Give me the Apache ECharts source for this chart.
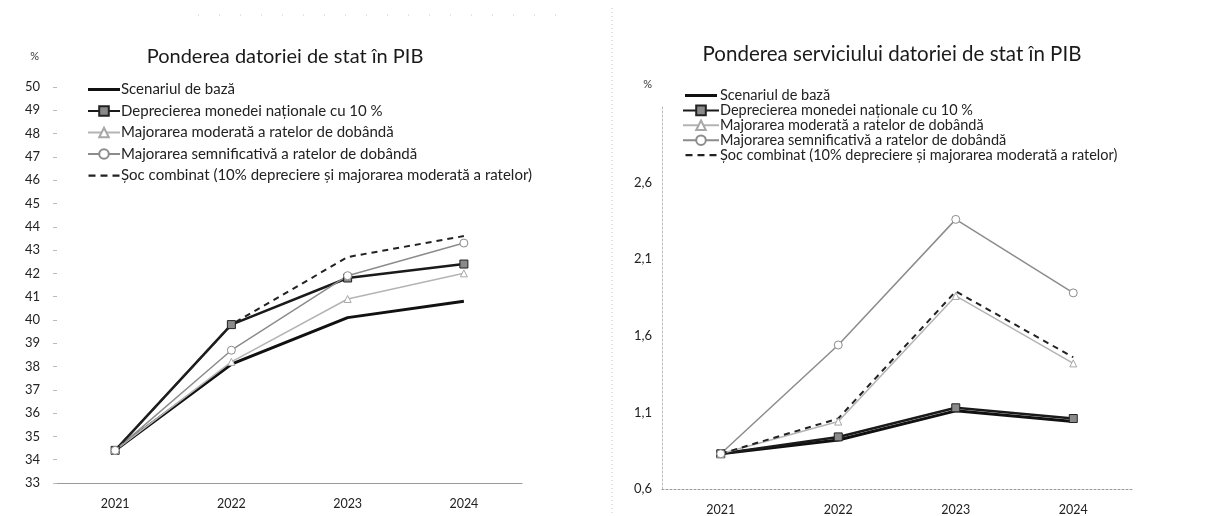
<!DOCTYPE html>
<html>
<head>
<meta charset="utf-8">
<script src="https://cdn.jsdelivr.net/npm/echarts@6/dist/echarts.min.js"></script>
<style>
  html, body { margin: 0; padding: 0; background: #fff; }
  #main { width: 1219px; height: 516px; }
</style>
</head>
<body>
<div id="main"></div>
<script>
const years = ['2021', '2022', '2023', '2024']

const names = [
  'Scenariul de bază',
  'Deprecierea monedei naționale cu 10 %',
  'Majorarea moderată a ratelor de dobândă',
  'Majorarea semnificativă a ratelor de dobândă',
  'Șoc combinat (10% depreciere și majorarea moderată a ratelor)'
]

// Ponderea datoriei de stat in PIB, %
const debtBase = [34.4, 38.1, 40.1, 40.8]
const debtDeprec = [34.4, 39.8, 41.8, 42.4]
const debtModerate = [34.4, 38.2, 40.9, 42.0]
const debtSignificant = [34.4, 38.7, 41.9, 43.3]
const debtCombined = [34.4, 39.8, 42.7, 43.6]

// Ponderea serviciului datoriei de stat in PIB, %
const svcBase = [0.83, 0.92, 1.11, 1.04]
const svcDeprec = [0.83, 0.94, 1.13, 1.06]
const svcModerate = [0.83, 1.04, 1.86, 1.42]
const svcSignificant = [0.83, 1.54, 2.36, 1.88]
const svcCombined = [0.83, 1.06, 1.89, 1.46]

const font = 'Lato, "Open Sans", sans-serif'

// one style per scenario, same on both charts
const styles = [
  { symbol: 'none', lineStyle: { color: '#111', width: 3 } },
  { symbol: 'rect', symbolSize: 8, itemStyle: { color: '#8a8a8a', borderColor: '#222', borderWidth: 1 },
    lineStyle: { color: '#1a1a1a', width: 2.5 } },
  { symbol: 'triangle', symbolSize: 7, itemStyle: { color: '#fff', borderColor: '#a8a8a8', borderWidth: 1 },
    lineStyle: { color: '#b4b4b4', width: 1.5 } },
  { symbol: 'circle', symbolSize: 8, itemStyle: { color: '#fff', borderColor: '#8c8c8c', borderWidth: 1 },
    lineStyle: { color: '#8c8c8c', width: 1.5 } },
  { symbol: 'none', lineStyle: { color: '#222', width: 2, type: [6, 5] } }
]

// legend icons for the two series without markers (plain and dashed line)
const solidIcon = 'path://M0,0M0,12M0,4.5L32,4.5L32,7.5L0,7.5Z'
const dashIcon = 'path://M0,0M0,12M0,5L7,5L7,7.2L0,7.2ZM12,5L19,5L19,7.2L12,7.2ZM24,5L31,5L31,7.2L24,7.2Z'

function legendData() {
  return names.map((n, i) => {
    if (i === 0) return { name: n, icon: solidIcon }
    if (i === 4) return { name: n, icon: dashIcon }
    return { name: n }
  })
}

function makeSeries(dataList, axisIndex) {
  return dataList.map((d, i) => Object.assign({
    name: names[i],
    type: 'line',
    xAxisIndex: axisIndex,
    yAxisIndex: axisIndex,
    data: d,
    showAllSymbol: true,
    animation: false,
    emphasis: { disabled: true }
  }, styles[i], {
    itemStyle: Object.assign({ color: styles[i].lineStyle.color }, styles[i].itemStyle || {})
  }))
}

const chart = echarts.init(document.getElementById('main'))

chart.setOption({
  backgroundColor: '#fff',
  textStyle: { fontFamily: font },
  title: [
    {
      text: 'Ponderea datoriei de stat în PIB',
      left: 280, top: 42, textAlign: 'center',
      textStyle: { fontFamily: font, fontSize: 20, fontWeight: 'normal', color: '#1a1a1a' }
    },
    {
      text: 'Ponderea serviciului datoriei de stat în PIB',
      left: 887, top: 39, textAlign: 'center',
      textStyle: { fontFamily: font, fontSize: 20.5, fontWeight: 'normal', color: '#1a1a1a' }
    }
  ],
  legend: [
    {
      data: legendData(), orient: 'vertical', left: 82, top: 77,
      itemWidth: 32, itemHeight: 12, itemGap: 6.5,
      selectedMode: false,
      textStyle: { fontFamily: font, fontSize: 15, color: '#222', lineHeight: 15, padding: [0, 0, 0, -4] }
    },
    {
      data: legendData(), orient: 'vertical', left: 677, top: 83,
      itemWidth: 36, itemHeight: 12, itemGap: -0.1,
      selectedMode: false,
      textStyle: { fontFamily: font, fontSize: 14.5, color: '#222', lineHeight: 13, padding: [0, 0, 0, -4] }
    }
  ],
  grid: [
    { left: 57, top: 87, width: 465, height: 396 },
    { left: 662, top: 106, width: 470, height: 383 }
  ],
  xAxis: [
    {
      type: 'category', gridIndex: 0, data: years,
      axisLine: { lineStyle: { color: '#9a9a9a', width: 1 } },
      axisTick: { show: false },
      axisLabel: { fontFamily: font, fontSize: 12.5, color: '#222', margin: 14 }
    },
    {
      type: 'category', gridIndex: 1, data: years,
      axisLine: { lineStyle: { color: '#9a9a9a', width: 1, type: [2, 2] } },
      axisTick: { show: false },
      axisLabel: { fontFamily: font, fontSize: 12.5, color: '#222', margin: 14 }
    }
  ],
  yAxis: [
    {
      type: 'value', gridIndex: 0, min: 33, max: 50, interval: 1,
      name: '%', nameLocation: 'end', nameGap: 25,
      nameTextStyle: { fontFamily: font, fontSize: 11, color: '#333', align: 'right', padding: [0, 18, 0, 0] },
      axisLine: { show: false },
      axisTick: { show: true, length: 4, lineStyle: { color: '#bbb' } },
      splitLine: { show: false },
      axisLabel: { fontFamily: font, fontSize: 13, color: '#222', margin: 17 }
    },
    {
      type: 'value', gridIndex: 1, min: 0.6, max: 3.1, interval: 0.5,
      name: '%', nameLocation: 'end', nameGap: 16,
      nameTextStyle: { fontFamily: font, fontSize: 11, color: '#333', align: 'right', padding: [0, 10, 0, 0] },
      axisLine: { show: true, lineStyle: { color: '#bbb', type: [2, 2] } },
      axisTick: { show: false },
      splitLine: { show: false },
      axisLabel: {
        fontFamily: font, fontSize: 13, color: '#222', margin: 10,
        formatter: v => (v > 3 ? '' : v.toFixed(1).replace('.', ','))
      }
    }
  ],
  graphic: [
    {
      type: 'line', silent: true,
      shape: { x1: 612, y1: 8, x2: 612, y2: 516 },
      style: { stroke: '#c8c8c8', lineWidth: 1, lineDash: [1, 3] }
    },
    {
      type: 'line', silent: true,
      shape: { x1: 198, y1: 15, x2: 560, y2: 15 },
      style: { stroke: '#c8c8c8', lineWidth: 1, lineDash: [1, 20] }
    }
  ],
  series: makeSeries([debtBase, debtDeprec, debtModerate, debtSignificant, debtCombined], 0)
    .concat(makeSeries([svcBase, svcDeprec, svcModerate, svcSignificant, svcCombined], 1))
})
</script>
</body>
</html>
